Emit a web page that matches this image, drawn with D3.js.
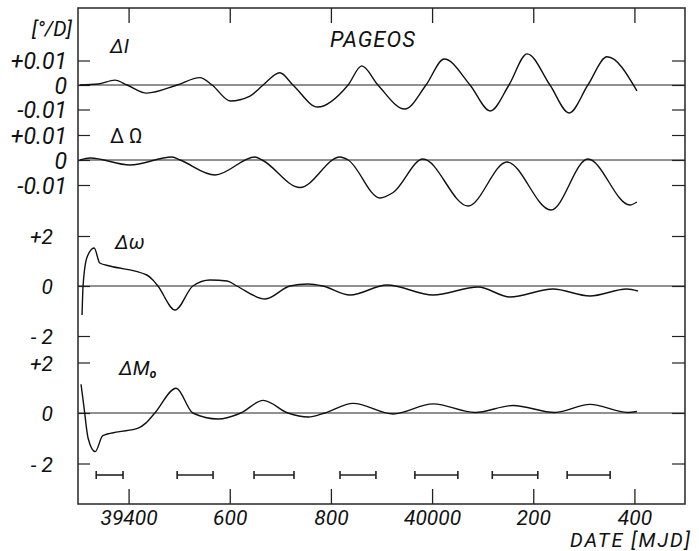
<!DOCTYPE html>
<html>
<head>
<meta charset="utf-8">
<script src="https://cdn.jsdelivr.net/npm/d3@7"></script>
<style>
  html, body { margin: 0; padding: 0; background: #fff; }
  svg { display: block; }
  text { font-family: Roboto, "Liberation Sans", sans-serif; font-style: italic; font-weight: 400; fill: #111; }
</style>
</head>
<body>
<svg id="chart" width="699" height="551"></svg>
<script>
// Date axis (MJD)
const xTicks = [39400, 39600, 39800, 40000, 40200, 40400];
const xTickLabels = ["39400", "600", "800", "40000", "200", "400"];

// Drift-rate residuals of PAGEOS elements [deg/day], pairs of [MJD, value]
const deltaI = [
  [39304, 0], [39340, 0.0004], [39373, 0.002], [39397, 0], [39436, -0.0033],
  [39496, 0], [39541, 0.003], [39565, 0], [39601, -0.0065], [39640, -0.0045],
  [39666, 0], [39699, 0.005], [39725, 0], [39774, -0.009], [39834, 0],
  [39861, 0.0078], [39893, 0], [39946, -0.0098], [39988, 0], [40024, 0.0106],
  [40075, 0], [40115, -0.0106], [40152, 0], [40188, 0.0127], [40233, 0],
  [40271, -0.0114], [40308, 0], [40346, 0.0115], [40405, -0.0024]
];
const deltaNode = [
  [39304, 0], [39324, 0.0008], [39403, -0.002], [39486, 0.0012], [39502, 0],
  [39571, -0.006], [39650, 0.0012], [39664, 0], [39739, -0.011], [39818, 0.0012],
  [39834, 0], [39897, -0.0152], [39923, -0.013], [39982, 0.0004], [40071, -0.0184],
  [40148, -0.0008], [40235, -0.02], [40308, 0.0004], [40391, -0.018], [40405, -0.0168]
];
const deltaPerigee = [
  [39308, -1.16], [39310, 0], [39318, 1.16], [39332, 1.52], [39343, 0.92],
  [39363, 0.8], [39436, 0.44], [39448, 0.24], [39458, 0], [39492, -0.96],
  [39527, 0], [39561, 0.24], [39595, 0.2], [39614, 0], [39670, -0.52],
  [39719, 0], [39755, 0.08], [39784, 0], [39838, -0.36], [39911, 0.04],
  [40002, -0.36], [40091, -0.04], [40154, -0.44], [40239, -0.12], [40312, -0.4],
  [40385, -0.12], [40407, -0.2]
];
const deltaAnomaly = [
  [39306, 1.14], [39312, 0.2], [39320, -1.0], [39334, -1.53], [39349, -0.9],
  [39379, -0.75], [39419, -0.6], [39434, -0.4], [39452, 0], [39494, 0.98],
  [39527, 0], [39577, -0.24], [39622, 0], [39666, 0.5], [39715, 0],
  [39755, -0.16], [39788, 0], [39844, 0.38], [39923, -0.04], [40002, 0.36],
  [40085, 0.02], [40160, 0.3], [40243, 0.02], [40312, 0.34], [40387, 0.02],
  [40405, 0.06]
];

// Observation intervals [start MJD, end MJD]
const arcIntervals = [
  [39336, 39389], [39496, 39567], [39648, 39727], [39818, 39889],
  [39966, 40051], [40119, 40209], [40267, 40352]
];

// Per-panel y ticks and their labels
const smallTicks = [0.01, 0, -0.01];
const smallTickLabels = ["+0.01", "0", "-0.01"];
const bigTicks = [2, 0, -2];
const bigTickLabels = ["+2", "0", "- 2"];

const svg = d3.select("#chart");
const frame = { left: 78, right: 685, top: 8, bottom: 504 };

const x = d3.scaleLinear().domain([39300, 40500]).range([frame.left, frame.right]);

const panels = [
  { data: deltaI, domain: [-0.01, 0.01], range: [109.5, 60.5], ticks: smallTicks, labels: smallTickLabels,
    pad: 11, fs: 23, name: "ΔI", nx: 110, ny: 53, nfs: 20 },
  { data: deltaNode, domain: [-0.01, 0.01], range: [185, 135], ticks: smallTicks, labels: smallTickLabels,
    pad: 11, fs: 23, name: "Δ Ω", nx: 110, ny: 143, nfs: 20, upright: true },
  { data: deltaPerigee, domain: [-2, 2], range: [336, 236], ticks: bigTicks, labels: bigTickLabels,
    pad: 25, fs: 21, name: "Δω", nx: 115, ny: 249, nfs: 20 },
  { data: deltaAnomaly, domain: [-2, 2], range: [463.5, 362.5], ticks: bigTicks, labels: bigTickLabels,
    pad: 25, fs: 21, name: "ΔM", sub: "o", nx: 119, ny: 375, nfs: 20 }
];

// Frame
svg.append("rect")
  .attr("x", frame.left).attr("y", frame.top)
  .attr("width", frame.right - frame.left).attr("height", frame.bottom - frame.top)
  .attr("fill", "none").attr("stroke", "#333").attr("stroke-width", 1.6);

// Bottom and top date ticks, pointing inward
const bottomAxis = svg.append("g")
  .attr("transform", `translate(0,${frame.bottom})`)
  .attr("color", "#222")
  .call(d3.axisBottom(x).tickValues(xTicks).tickSize(-15).tickPadding(6)
    .tickFormat((d, i) => xTickLabels[i]));
bottomAxis.select(".domain").remove();
bottomAxis.selectAll("line").attr("stroke-width", 1.3);
bottomAxis.selectAll("text").style("font-size", "21px");

const topAxis = svg.append("g")
  .attr("transform", `translate(0,${frame.top})`)
  .attr("color", "#222")
  .call(d3.axisTop(x).tickValues(xTicks).tickSize(-15).tickFormat(""));
topAxis.select(".domain").remove();
topAxis.selectAll("line").attr("stroke-width", 1.3);

// Panels
panels.forEach(p => {
  const y = d3.scaleLinear().domain(p.domain).range(p.range);

  const left = svg.append("g")
    .attr("transform", `translate(${frame.left},0)`)
    .attr("color", "#222")
    .call(d3.axisLeft(y).tickValues(p.ticks).tickSize(-12).tickPadding(p.pad)
      .tickFormat((d, i) => p.labels[i]));
  left.select(".domain").remove();
  left.selectAll("line").attr("stroke-width", 1.2);
  left.selectAll("text").style("font-size", p.fs + "px").attr("dy", "0.36em");

  const right = svg.append("g")
    .attr("transform", `translate(${frame.right},0)`)
    .attr("color", "#222")
    .call(d3.axisRight(y).tickValues(p.ticks).tickSize(-13).tickFormat(""));
  right.select(".domain").remove();
  right.selectAll("line").attr("stroke-width", 1.2);

  // zero reference line
  svg.append("line")
    .attr("x1", frame.left).attr("x2", frame.right)
    .attr("y1", y(0)).attr("y2", y(0))
    .attr("stroke", "#222").attr("stroke-width", 1);

  const line = d3.line()
    .x(d => x(d[0])).y(d => y(d[1]))
    .curve(d3.curveMonotoneX);
  svg.append("path")
    .datum(p.data)
    .attr("d", line)
    .attr("fill", "none")
    .attr("stroke", "#111")
    .attr("stroke-width", 1.4)
    .attr("stroke-linejoin", "round");

  const lab = svg.append("text")
    .attr("x", p.nx).attr("y", p.ny)
    .style("font-size", p.nfs + "px")
    .style("font-style", p.upright ? "normal" : "italic")
    .text(p.name);
  if (p.sub) {
    lab.append("tspan").attr("dy", 3).style("font-size", "12px").style("font-weight", 700).text(p.sub);
  }
});

// Observation interval bars
const barY = 475;
const bars = svg.append("g").attr("stroke", "#222").attr("stroke-width", 1.6);
arcIntervals.forEach(([a, b]) => {
  bars.append("line").attr("x1", x(a)).attr("x2", x(b)).attr("y1", barY).attr("y2", barY);
  bars.append("line").attr("x1", x(a)).attr("x2", x(a)).attr("y1", barY - 4).attr("y2", barY + 4);
  bars.append("line").attr("x1", x(b)).attr("x2", x(b)).attr("y1", barY - 4).attr("y2", barY + 4);
});

// Titles and units
svg.append("text").attr("x", 72).attr("y", 36).attr("text-anchor", "end")
  .style("font-size", "21px").text("[°/D]");
svg.append("text").attr("x", 330).attr("y", 47)
  .style("font-size", "22px").style("letter-spacing", "1px").text("PAGEOS");
svg.append("text").attr("x", 692).attr("y", 547).attr("text-anchor", "end")
  .style("font-size", "20px").style("letter-spacing", "2px").text("DATE [MJD]");
</script>
</body>
</html>
